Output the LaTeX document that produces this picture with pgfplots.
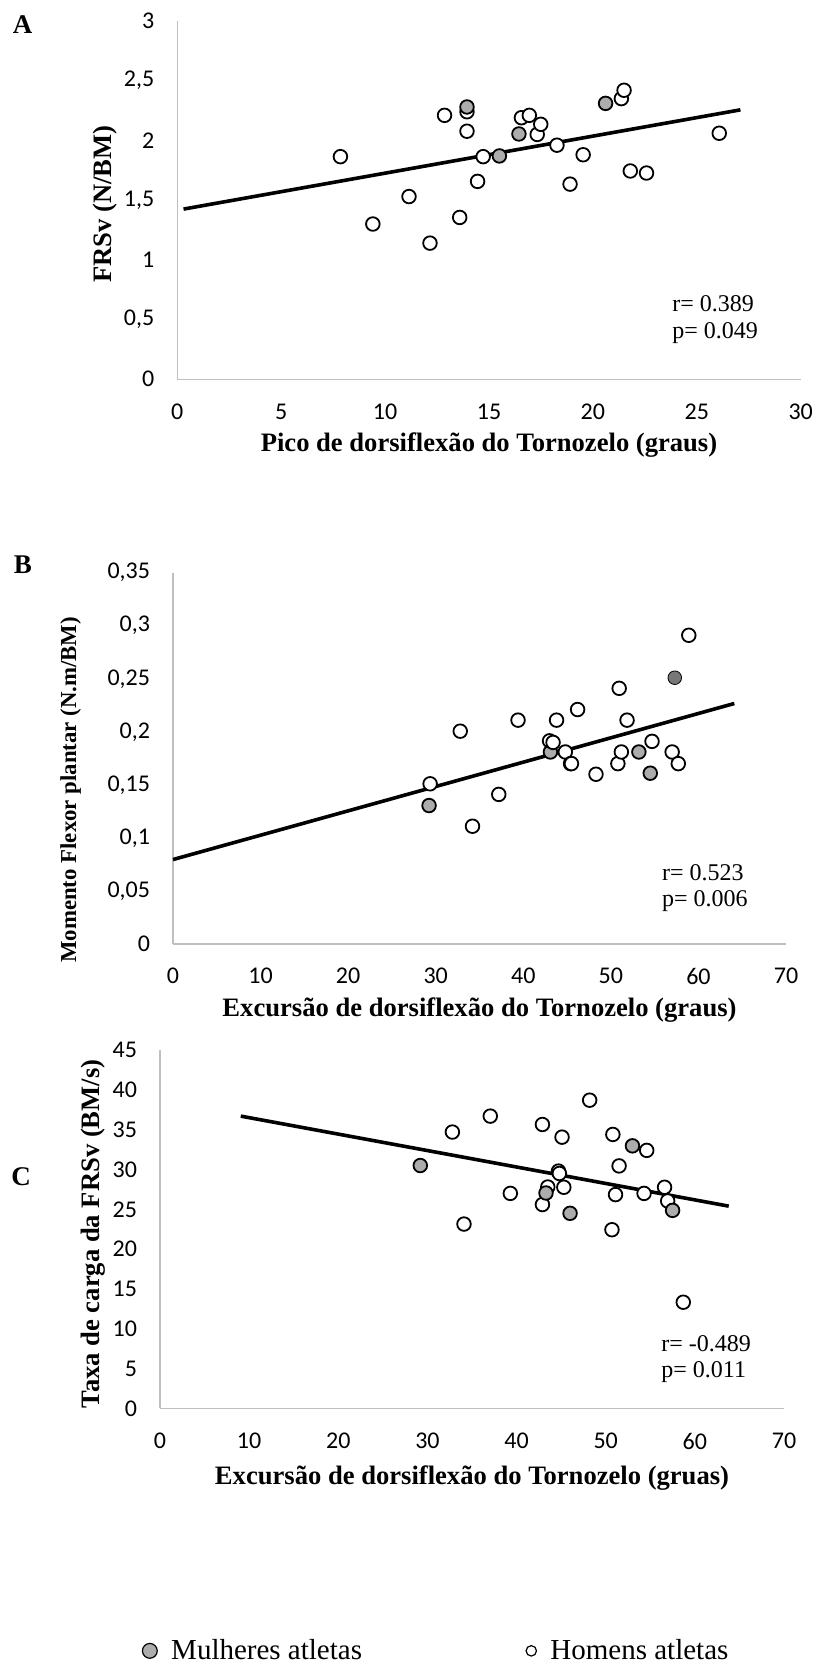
\documentclass[border=0pt]{standalone}
\usepackage{fontspec}
\setmainfont{Liberation Serif}
\newfontfamily\carlito{Carlito}
\usepackage{pgfplots}
\pgfplotsset{compat=1.18}
\definecolor{axgray}{RGB}{191,191,191}
\definecolor{fem}{RGB}{172,172,172}
\definecolor{femdark}{RGB}{120,120,120}

\pgfplotsset{
  panel/.style={
    scale only axis,
    axis lines=left,
    axis line style={-, draw=axgray, line width=0.75pt},
    major tick length=0pt,
    enlargelimits=false,
    clip=false,
    scaled ticks=false,
    tick label style={font=\carlito\fontsize{12}{14}\selectfont, inner sep=0pt},
    xticklabel style={anchor=north, yshift=-12pt},
    yticklabel style={anchor=east, xshift=-11.3pt},
    label style={font=\bfseries\fontsize{13.3}{16}\selectfont},
  },
  men/.style={only marks, mark=*, mark size=3.4pt,
    mark options={fill=white, draw=black, line width=0.9pt}},
  women/.style={only marks, mark=*, mark size=3.4pt,
    mark options={fill=fem, draw=black, line width=0.9pt}},
  trend/.style={black, line width=1.8pt, no marks},
}
\tikzset{stat/.style={font=\fontsize{12}{14}\selectfont, anchor=west, inner sep=0pt}}

\begin{document}
\begin{tikzpicture}
\useasboundingbox (0,0) rectangle (408.5pt,834pt);

% panel letters
\node[font=\bfseries\fontsize{13.5}{15}\selectfont] at (11.25pt,821.5pt) {A};
\node[font=\bfseries\fontsize{13.5}{15}\selectfont] at (11.5pt,551.5pt) {B};
\node[font=\bfseries\fontsize{13.5}{15}\selectfont] at (10.5pt,245.5pt) {C};

% ---------- A ----------
\begin{axis}[panel,
  at={(88.65pt,644.35pt)}, anchor=south west,
  width=311.7pt, height=179.15pt,
  xmin=0, xmax=30, ymin=0, ymax=3,
  xtick={0,5,10,15,20,25,30},
  xticklabels={0,5,10,15,20,25,30},
  ytick={0,0.5,1,1.5,2,2.5,3},
  yticklabels={0,{0,5},1,{1,5},2,{2,5},3},
  xlabel={Pico de dorsiflexão do Tornozelo (graus)},
  ylabel={FRSv (N/BM)},
  xlabel style={at={(axis description cs:0.5,-0.184)}, anchor=center},
  ylabel style={at={(axis description cs:-0.116,0.489)}, anchor=center},
]
\addplot[men] coordinates {
  (7.85,1.864) (9.41,1.30) (11.15,1.53) (12.16,1.14) (12.86,2.21)
  (13.59,1.355) (13.94,2.24) (13.94,2.077) (14.45,1.657) (14.72,1.864)
  (16.56,2.19) (16.94,2.21) (17.32,2.05) (17.49,2.135) (18.27,1.96)
  (18.90,1.634) (19.53,1.88) (21.37,2.35) (21.5,2.42) (21.8,1.744)
  (22.58,1.727) (26.08,2.06)
};
\addplot[women] coordinates {
  (13.94,2.28) (15.5,1.87) (16.44,2.054) (20.61,2.31)
};
\addplot[trend] coordinates {(0.3,1.425) (27.1,2.256)};
\node[stat] at (axis cs:23.8,0.63) {r= 0.389};
\node[stat] at (axis cs:23.8,0.383) {p= 0.049};
\end{axis}

% ---------- B ----------
\begin{axis}[panel,
  at={(86.5pt,362pt)}, anchor=south west,
  width=306.5pt, height=185.65pt,
  xmin=0, xmax=70, ymin=0, ymax=0.35,
  xtick={0,10,20,30,40,50,60,70},
  xticklabels={0,10,20,30,40,50,60,70},
  ytick={0,0.05,0.1,0.15,0.2,0.25,0.3,0.35},
  yticklabels={0,{0,05},{0,1},{0,15},{0,2},{0,25},{0,3},{0,35}},
  xlabel={Excursão de dorsiflexão do Tornozelo (graus)},
  ylabel={Momento Flexor plantar (N.m/BM)},
  xlabel style={at={(axis description cs:0.5,-0.178)}, anchor=center},
  ylabel style={at={(axis description cs:-0.167,0.415)}, anchor=center,
    font=\bfseries\fontsize{11.4}{14}\selectfont},
]
\addplot[men] coordinates {
  (29.36,0.151) (32.8,0.2006) (34.2,0.111) (37.2,0.141) (39.4,0.211)
  (43.8,0.211) (44.8,0.181) (45.4,0.170) (45.5,0.170)
  (46.2,0.221) (48.3,0.160) (50.8,0.170) (50.95,0.241) (51.2,0.181)
  (51.85,0.211) (54.7,0.191) (57.0,0.181) (57.7,0.170) (58.9,0.291)
};
\addplot[women] coordinates {
  (29.24,0.1305) (43.1,0.181) (53.2,0.181) (54.5,0.161)
};
\addplot[men] coordinates {(43.0,0.1915) (43.4,0.19)};
\addplot[women, mark options={fill=femdark}] coordinates {(57.3,0.251)};
\addplot[trend] coordinates {(0,0.0796) (64.1,0.2267)};
\node[stat] at (axis cs:55.8,0.067) {r= 0.523};
\node[stat] at (axis cs:55.8,0.040) {p= 0.006};
\end{axis}

% ---------- C ----------
\begin{axis}[panel,
  at={(80pt,129.75pt)}, anchor=south west,
  width=312pt, height=179.25pt,
  xmin=0, xmax=70, ymin=0, ymax=45,
  xtick={0,10,20,30,40,50,60,70},
  xticklabels={0,10,20,30,40,50,60,70},
  ytick={0,5,10,15,20,25,30,35,40,45},
  yticklabels={0,5,10,15,20,25,30,35,40,45},
  xlabel={Excursão de dorsiflexão do Tornozelo (gruas)},
  ylabel={Taxa de carga da FRSv (BM/s)},
  xlabel style={at={(axis description cs:0.5,-0.194)}, anchor=center},
  ylabel style={at={(axis description cs:-0.107,0.487)}, anchor=center},
  legend cell align=left,
  legend style={at={(axis description cs:-0.0288,-0.676)}, anchor=west,
    draw=none, fill=none, inner sep=0pt, legend columns=2,
    nodes={inner sep=0pt},
    font=\fontsize{14.5}{17}\selectfont,
    /tikz/every odd column/.append style={column sep=7pt},
    /tikz/every even column/.append style={column sep=82pt}},
  legend image code/.code={\draw[#1] plot coordinates {(0pt,0pt)};},
]
\addplot[men, forget plot] coordinates {
  (32.8,34.7) (34.1,23.15) (37.05,36.7) (39.3,27.0) (42.9,35.65)
  (42.9,25.6) (43.5,27.8) (44.7,29.8) (44.8,29.5) (45.1,34.06)
  (45.3,27.77) (48.2,38.7) (50.7,22.44) (50.8,34.4) (51.1,26.85)
  (51.5,30.45) (54.3,27.0) (54.6,32.4) (56.6,27.77) (56.95,26.05)
  (58.7,13.34)
};
\addplot[women, forget plot] coordinates {
  (29.2,30.5) (43.3,27.05) (46.0,24.5) (53.0,32.97) (57.5,24.87)
};
\addplot[trend, forget plot] coordinates {(9.06,36.7) (63.8,25.4)};
\addlegendimage{women, mark size=3.7pt, mark options={fill=fem, draw=black, line width=0.6pt}}
\addlegendentry{Mulheres atletas}
\addlegendimage{men, mark size=2.6pt, mark options={fill=white, draw=black, line width=0.6pt}}
\addlegendentry{Homens atletas}
\node[stat] at (axis cs:56.2,8.18) {r= -0.489};
\node[stat] at (axis cs:56.2,4.61) {p= 0.011};
\end{axis}
\end{tikzpicture}
\end{document}
